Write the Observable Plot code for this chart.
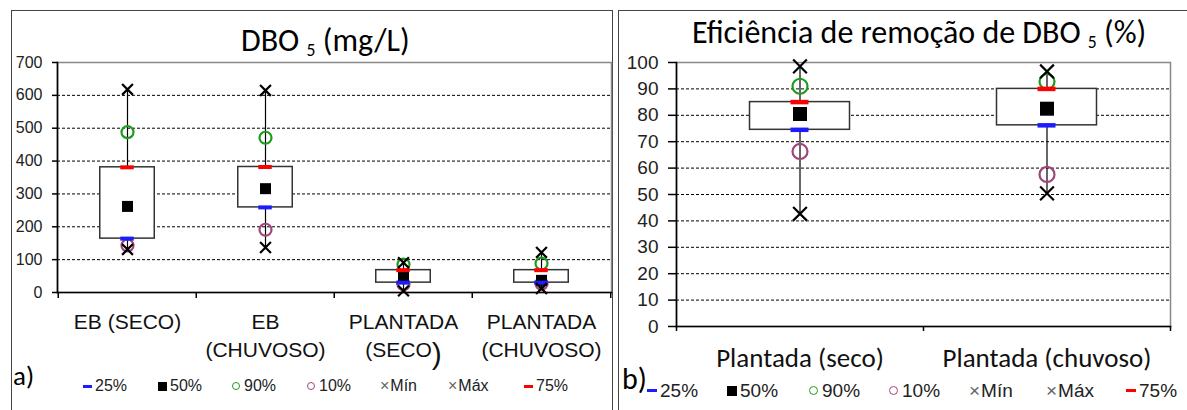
<!DOCTYPE html>
<html>
<head>
<meta charset="utf-8">
<script src="https://cdn.jsdelivr.net/npm/d3@7"></script>
<script src="https://cdn.jsdelivr.net/npm/@observablehq/plot@0.6"></script>
<style>
  html, body { margin: 0; padding: 0; background: #fff; }
  #wrap { position: relative; width: 1187px; height: 410px; overflow: hidden; font-family: "Liberation Sans", Arial, sans-serif; color: #222; }
  .abs { position: absolute; }
  .frame { border: 1.5px solid #444; border-bottom: none; box-sizing: border-box; }
  .title { font-family: Carlito, Calibri, Lato, sans-serif; white-space: nowrap; color: #000; line-height: 1; }
  .title sub { font-size: 55%; vertical-align: -0.3em; }
  .tag { font-family: Carlito, Calibri, Lato, sans-serif; color: #000; line-height: 1; }
  .leg { white-space: nowrap; line-height: 1; display: flex; align-items: center; }
  .dash { display: inline-block; height: 3px; margin-right: 3px; }
  .sq { display: inline-block; background: #000; margin-right: 3px; }
  .circ { display: inline-block; border-radius: 50%; box-sizing: border-box; margin-right: 4px; }
  .x { color: #666; margin-right: 1px; }
</style>
</head>
<body>
<div id="wrap">
  <div class="abs frame" style="left:11px;top:10px;width:602px;height:410px;"></div>
  <div class="abs frame" style="left:618px;top:10px;width:580px;height:410px;"></div>
  <div id="chartA" class="abs" style="left:0;top:0;width:615px;height:410px;"></div>
  <div id="chartB" class="abs" style="left:615px;top:0;width:572px;height:410px;"></div>
  <div id="titleA" class="abs title" style="left:241px;top:25px;font-size:32px;">DBO <sub>5</sub> (mg/L)</div>
  <div id="titleB" class="abs title" style="left:692px;top:17px;font-size:32px;">Eficiência de remoção de DBO <sub>5</sub> (%)</div>
  <div class="abs tag" style="left:13px;top:362px;font-size:27px;">a)</div>
  <div class="abs tag" style="left:622px;top:364px;font-size:30px;">b)</div>
  <div id="legA"></div>
  <div id="legB"></div>
</div>
<script>
// ---------- Data: panel a) DBO5 (mg/L) ----------
const catsA = ["EB (SECO)", "EB\n(CHUVOSO)", "PLANTADA\n(SECO)", "PLANTADA\n(CHUVOSO)"];
const minA = [131, 137, 5, 12];
const p10A = [143, 191, 25, 27];
const p25A = [164, 259, 30, 30];
const p50A = [262, 316, 46, 37];
const p75A = [381, 382, 68, 68];
const p90A = [488, 471, 85, 88];
const maxA = [618, 615, 91, 122];
const ticksA = [0, 100, 200, 300, 400, 500, 600, 700];

// ---------- Data: panel b) Eficiência de remoção (%) ----------
const catsB = ["Plantada (seco)", "Plantada (chuvoso)"];
const minB = [42.7, 50.4];
const p10B = [66.3, 57.6];
const p25B = [74.5, 76.2];
const p50B = [80.5, 82.5];
const p75B = [85, 90];
const p90B = [91, 92.8];
const maxB = [98.5, 96.6];
const ticksB = [0, 10, 20, 30, 40, 50, 60, 70, 80, 90, 100];

// ---------- Legend ----------
const legendLabels = ["25%", "50%", "90%", "10%", "Mín", "Máx", "75%"];
const legendKinds = ["p25", "p50", "p90", "p10", "min", "max", "p75"];

const colors = {p25: "#1c1cff", p75: "#ff0000", p50: "#000000", p90: "#1e9a1e", p10: "#a0457c", x: "#000"};

function rowsOf(cats, mn, a10, a25, a50, a75, a90, mx) {
  return cats.map((c, i) => ({cat: c, min: mn[i], p10: a10[i], p25: a25[i], p50: a50[i], p75: a75[i], p90: a90[i], max: mx[i]}));
}

function panel(o) {
  const {rows, cats, ticks, width, height, mL, mR, mT, mB, boxW, dashW, dashH, sqSide, circR, xR,
         yFont, yTickSize, yPad, xFont, xFamily, xPad, xTick, lineHeight} = o;
  const bw = (width - mL - mR) / cats.length;
  const plotH = height - mT - mB;
  const inBox = (bw - boxW) / 2;
  const inDash = (bw - dashW) / 2;
  return Plot.plot({
    width, height,
    marginLeft: mL, marginRight: mR, marginTop: mT, marginBottom: mB,
    style: {background: "transparent", fontFamily: "Liberation Sans, Arial, sans-serif", color: "#222", maxWidth: "none"},
    x: {type: "band", domain: cats, padding: 0},
    y: {domain: [ticks[0], ticks[ticks.length - 1]]},
    marks: [
      Plot.gridY({ticks: ticks.filter(t => t > ticks[0] && t < ticks[ticks.length - 1]), stroke: "#000", strokeOpacity: 1, strokeWidth: 1, strokeDasharray: "3,2"}),
      Plot.frame({stroke: "#888", strokeWidth: 1.5}),
      Plot.frame({anchor: "left", stroke: "#000", strokeWidth: 1.6}),
      Plot.frame({anchor: "bottom", stroke: "#000", strokeWidth: 1.6}),
      // category boundary tick marks
      Plot.ruleX(cats, {x: d => d, dx: -bw / 2, insetTop: plotH, insetBottom: -xTick, stroke: "#000", strokeWidth: 1.5}),
      Plot.ruleX(cats.slice(-1), {x: d => d, dx: bw / 2, insetTop: plotH, insetBottom: -xTick, stroke: "#000", strokeWidth: 1.5}),
      Plot.axisY({ticks, tickSize: yTickSize, tickPadding: yPad, fontSize: yFont, stroke: "#000", strokeWidth: 1.5, label: null}),
      Plot.axisX({tickSize: 0, tickPadding: xPad, fontSize: xFont, fontFamily: xFamily, lineHeight, label: null, fill: "#111"}),
      // whisker
      Plot.ruleX(rows, {x: "cat", y1: "min", y2: "max", stroke: "#000", strokeWidth: 1.2}),
      // box 25%-75%
      Plot.barY(rows, {x: "cat", y1: "p25", y2: "p75", fill: "#fff", stroke: "#333", strokeWidth: 1.5, insetLeft: inBox, insetRight: inBox}),
      Plot.dot(rows, {x: "cat", y: "p90", r: circR, stroke: colors.p90, strokeWidth: 2.2, fill: "none"}),
      Plot.dot(rows, {x: "cat", y: "p10", r: circR, stroke: colors.p10, strokeWidth: 2.2, fill: "none"}),
      Plot.dot(rows, {x: "cat", y: "p50", r: sqSide / Math.sqrt(Math.PI), symbol: "square", fill: colors.p50, stroke: "none"}),
      Plot.tickY(rows, {x: "cat", y: "p25", stroke: colors.p25, strokeWidth: dashH, insetLeft: inDash, insetRight: inDash}),
      Plot.tickY(rows, {x: "cat", y: "p75", stroke: colors.p75, strokeWidth: dashH, insetLeft: inDash, insetRight: inDash}),
      Plot.dot(rows, {x: "cat", y: "min", r: xR, symbol: "times", stroke: colors.x, strokeWidth: 2.2}),
      Plot.dot(rows, {x: "cat", y: "max", r: xR, symbol: "times", stroke: colors.x, strokeWidth: 2.2})
    ]
  });
}

const rowsA = rowsOf(catsA, minA, p10A, p25A, p50A, p75A, p90A, maxA);
const rowsB = rowsOf(catsB, minB, p10B, p25B, p50B, p75B, p90B, maxB);

const svgA = panel({rows: rowsA, cats: catsA, ticks: ticksA, width: 615, height: 410,
  mL: 57, mR: 4, mT: 62, mB: 118, boxW: 55, dashW: 14, dashH: 4, sqSide: 11, circR: 6, xR: 5,
  yFont: 16, yTickSize: 5, yPad: 10, xFont: 21, xFamily: "Liberation Sans, Arial, sans-serif", xPad: 16, xTick: 6, lineHeight: 1.35});
document.getElementById("chartA").appendChild(svgA);

const svgB = panel({rows: rowsB, cats: catsB, ticks: ticksB, width: 572, height: 410,
  mL: 61, mR: 17, mT: 62, mB: 84, boxW: 100, dashW: 18, dashH: 4.5, sqSide: 14, circR: 7.5, xR: 6.3,
  yFont: 19, yTickSize: 8, yPad: 10, xFont: 27, xFamily: "Carlito, Calibri, Lato, sans-serif", xPad: 17, xTick: 5, lineHeight: 1.2});
document.getElementById("chartB").appendChild(svgB);

// Excel quirk: the closing parenthesis of "(SECO)" is drawn larger and lower
d3.select(svgA).selectAll("tspan").filter(function() { return this.textContent === "(SECO)"; })
  .each(function() {
    const t = d3.select(this);
    t.text("(SECO");
    t.append("tspan").attr("font-size", 30).attr("dy", "0.25em").text(")");
  });

// ---------- Legends ----------
function legend(containerId, left, top, xs, font, sym) {
  const c = document.getElementById(containerId);
  legendKinds.forEach((k, i) => {
    const d = document.createElement("div");
    d.className = "abs leg";
    d.style.left = xs[i] + "px";
    d.style.top = top + "px";
    d.style.fontSize = font + "px";
    let s = "";
    if (k === "p25" || k === "p75") s = `<span class="dash" style="width:${sym.dash}px;background:${colors[k]}"></span>`;
    else if (k === "p50") s = `<span class="sq" style="width:${sym.sq}px;height:${sym.sq}px"></span>`;
    else if (k === "p90" || k === "p10") s = `<span class="circ" style="width:${sym.c}px;height:${sym.c}px;border:1.5px solid ${colors[k]}"></span>`;
    else s = `<span class="x">×</span>`;
    d.innerHTML = s + `<span>${legendLabels[i]}</span>`;
    c.appendChild(d);
  });
}
legend("legA", 0, 378, [83, 158, 232, 307, 380, 448, 524], 16, {dash: 9, sq: 9, c: 8});
legend("legB", 0, 381, [647, 727, 809, 889, 969, 1046, 1126], 19, {dash: 10, sq: 10, c: 9});
</script>
</body>
</html>
